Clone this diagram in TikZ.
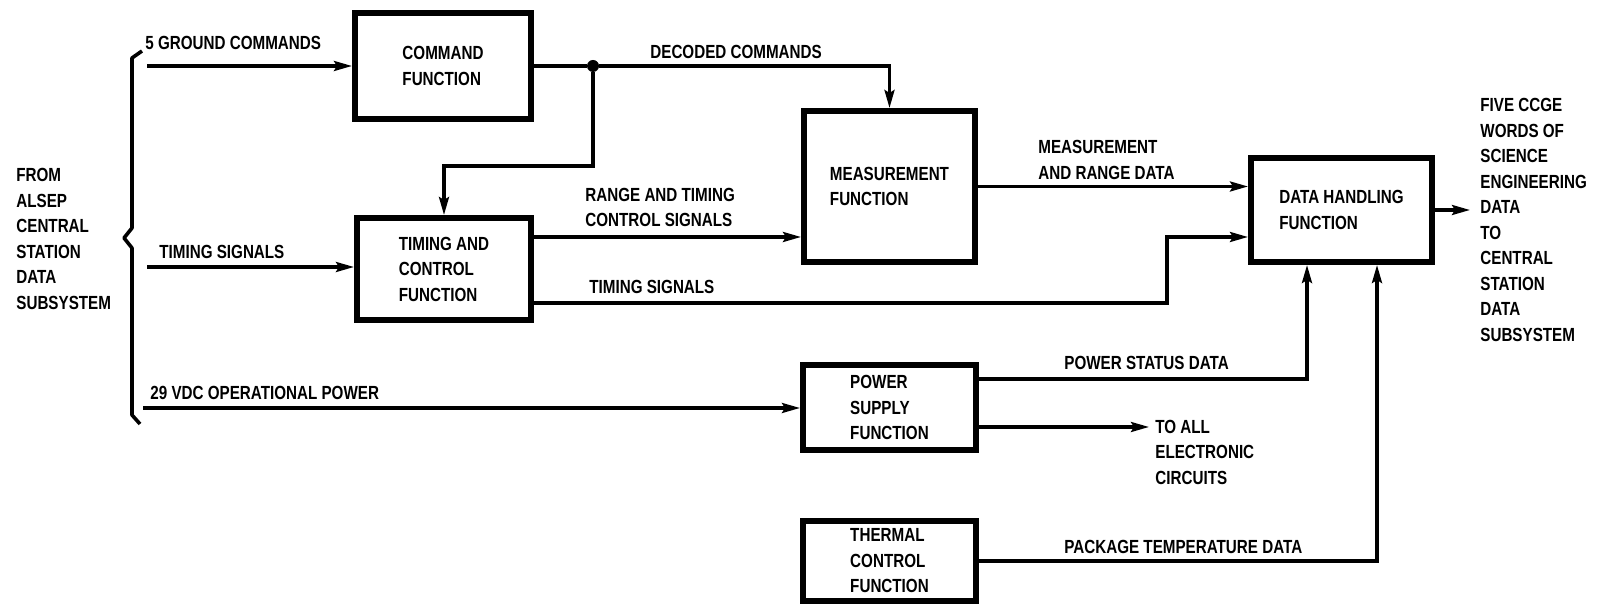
\documentclass[tikz,border=0pt]{standalone}
\usepackage{fontspec}
\setmainfont[FakeStretch=0.8]{Liberation Sans}
\usetikzlibrary{arrows.meta,calc}
\begin{document}
\begin{tikzpicture}[x=0.5pt,y=-0.5pt,
  every node/.style={font=\fontsize{9.5}{12.75}\selectfont\bfseries,inner sep=0pt},
  fbox/.style={draw,line width=3pt,align=left},
  sig/.style={line width=1.6pt},
  arr/.style={sig,-{Stealth[length=9pt,width=5pt,inset=1.5pt]}},
  lbl/.style={anchor=west,align=left}]
\useasboundingbox (0,0) rectangle (1597,608);
% Function boxes
\node[fbox,minimum width=88pt,minimum height=53pt] (cmd) at (443,66) {COMMAND\\FUNCTION};
\node[fbox,minimum width=87pt,minimum height=51pt] (tim) at (444,269) {TIMING AND\\CONTROL\\FUNCTION};
\node[fbox,minimum width=85.5pt,minimum height=75.5pt] (meas) at (889.5,186.5) {MEASUREMENT\\FUNCTION};
\node[fbox,minimum width=90.5pt,minimum height=52pt] (dh) at (1341.5,210) {DATA HANDLING\\FUNCTION};
\node[fbox,minimum width=86.5pt,minimum height=42.5pt] (pwr) at (889.5,407.5) {POWER\\SUPPLY\\FUNCTION};
\node[fbox,minimum width=86.5pt,minimum height=40pt] (thm) at (889.5,561) {THERMAL\\CONTROL\\FUNCTION};
\node[circle,fill,minimum size=6pt] (dot) at (593,66) {};
% Source and destination
\node[lbl] (src) at (16,239) {FROM\\ALSEP\\CENTRAL\\STATION\\DATA\\SUBSYSTEM};
\node[lbl] (dst) at (1480,220) {FIVE CCGE\\WORDS OF\\SCIENCE\\ENGINEERING\\DATA\\TO\\CENTRAL\\STATION\\DATA\\SUBSYSTEM};
\draw[line width=1.8pt,line join=round] (142,51) -- (132,58) -- (132,228) -- (124,238) -- (132,248) -- (132,415) -- (140,424);
\coordinate (gin) at (147,66);
\coordinate (tin) at (147,267);
\coordinate (pin) at (143,408);
% Signal labels
\node[lbl] (gcl) at (145,43) {5 GROUND COMMANDS};
\node[lbl] (tsl) at (159,252) {TIMING SIGNALS};
\node[lbl] (opl) at (150,393) {29 VDC OPERATIONAL POWER};
\node[lbl] (dcl) at (650,52) {DECODED COMMANDS};
\node[lbl] (rtl) at (585,207.5) {RANGE AND TIMING\\CONTROL SIGNALS};
\node[lbl] (ts2) at (589,287) {TIMING SIGNALS};
\node[lbl] (mrl) at (1038,160) {MEASUREMENT\\AND RANGE DATA};
\node[lbl] (psl) at (1064,363) {POWER STATUS DATA};
\node[lbl] (ptl) at (1064,547) {PACKAGE TEMPERATURE DATA};
\node[lbl,inner xsep=3pt] (toall) at (1149,452) {TO ALL\\ELECTRONIC\\CIRCUITS};
% Connections
\draw[arr] (gin) -- (gin -| cmd.west);
\draw[arr] (tin) -- (tin -| tim.west);
\draw[arr] (pin) -- (pin -| pwr.west);
\draw[sig] (cmd.east) -- (dot);
\draw[arr] (dot) -| (meas.north);
\draw[arr] (dot) |- ($(tim.north)+(0,-49)$) -- (tim.north);
\draw[arr] ([yshift=16pt]tim.east) coordinate (r1) -- (r1 -| meas.west);
\draw[arr] ([yshift=-17pt]tim.east) -| ([xshift=-40.5pt,yshift=-13.5pt]dh.west) -- ([yshift=-13.5pt]dh.west);
\draw[arr] (meas.east) -- (meas.east -| dh.west);
\draw[arr] (dh.east) -- ++(35,0);
\draw[arr] ([yshift=14.25pt]pwr.east) -| ([xshift=-17.25pt]dh.south);
\draw[arr] ([yshift=-9.75pt]pwr.east) coordinate (p2) -- (p2 -| toall.west);
\draw[arr] (thm.east) -| ([xshift=17.75pt]dh.south);
\end{tikzpicture}
\end{document}
